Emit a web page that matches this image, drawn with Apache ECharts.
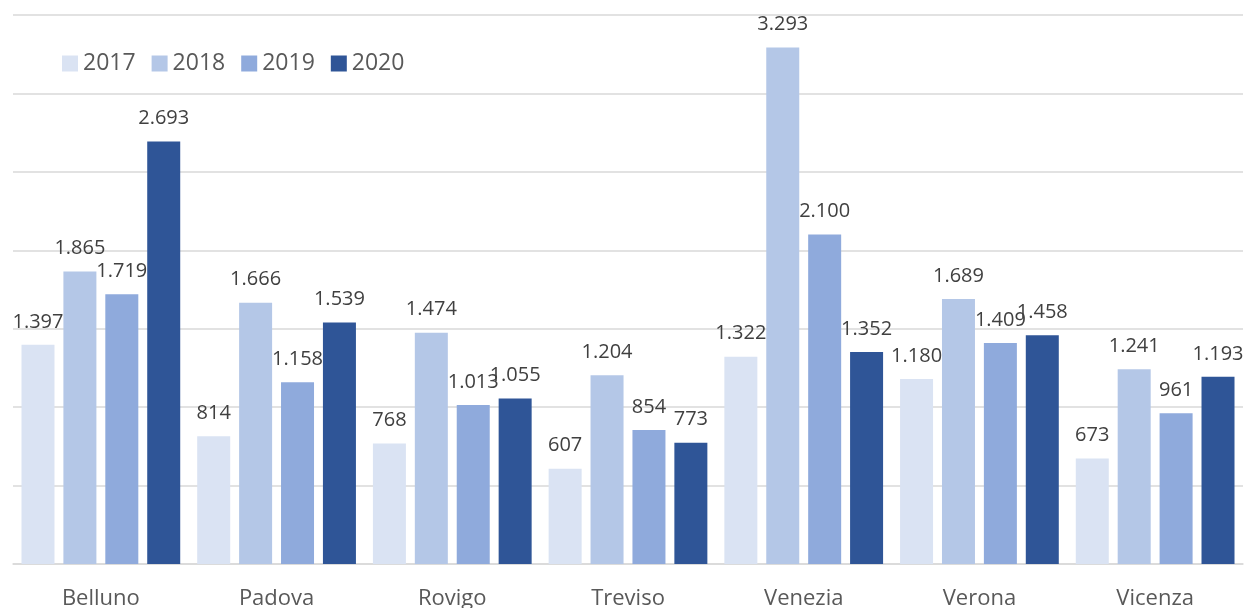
<!DOCTYPE html>
<html>
<head>
<meta charset="utf-8">
<script src="https://cdn.jsdelivr.net/npm/echarts@6/dist/echarts.min.js"></script>
<style>
  html, body { margin: 0; padding: 0; background: #fff; }
  #chart { width: 1247px; height: 608px; }
</style>
</head>
<body>
<div id="chart"></div>
<script>
// province e anni
const provinces = ['Belluno', 'Padova', 'Rovigo', 'Treviso', 'Venezia', 'Verona', 'Vicenza'];
const years = ['2017', '2018', '2019', '2020'];
const values2017 = [1397, 814, 768, 607, 1322, 1180, 673];
const values2018 = [1865, 1666, 1474, 1204, 3293, 1689, 1241];
const values2019 = [1719, 1158, 1013, 854, 2100, 1409, 961];
const values2020 = [2693, 1539, 1055, 773, 1352, 1458, 1193];
const colors = ['#dae3f3', '#b4c7e7', '#8faadc', '#2f5597'];

const font = '"Open Sans", sans-serif';
// separatore delle migliaia con il punto
const fmt = v => String(v).replace(/\B(?=(\d{3})+(?!\d))/g, '.');

const chart = echarts.init(document.getElementById('chart'));
const allValues = [values2017, values2018, values2019, values2020];

const option = {
    animation: false,
    color: colors,
    textStyle: { fontFamily: font },
    legend: {
        data: years,
        left: 57,
        top: 47,
        icon: 'rect',
        itemWidth: 16,
        itemHeight: 16,
        itemGap: 16,
        textStyle: { fontSize: 23, color: '#595959', fontFamily: font }
    },
    grid: { left: 13, right: 4, top: 15, bottom: 44, containLabel: false, outerBoundsMode: 'none' },
    xAxis: {
        type: 'category',
        data: provinces,
        axisLine: { lineStyle: { color: '#d9d9d9', width: 1.5 } },
        axisTick: { show: false },
        axisLabel: { fontSize: 22, color: '#595959', margin: 24, fontFamily: font }
    },
    yAxis: {
        type: 'value',
        min: 0,
        max: 3500,
        interval: 500,
        axisLabel: { show: false },
        axisLine: { show: false },
        axisTick: { show: false },
        splitLine: { lineStyle: { color: '#d9d9d9', width: 1.5 } }
    },
    series: years.map((y, i) => ({
        name: y,
        type: 'bar',
        data: allValues[i],
        barWidth: 33,
        barGap: '27%',
        label: {
            show: true,
            position: 'top',
            distance: 13,
            fontSize: 20,
            color: '#404040',
            fontFamily: font,
            formatter: p => fmt(p.value)
        }
    }))
};

chart.setOption(option);
</script>
</body>
</html>
